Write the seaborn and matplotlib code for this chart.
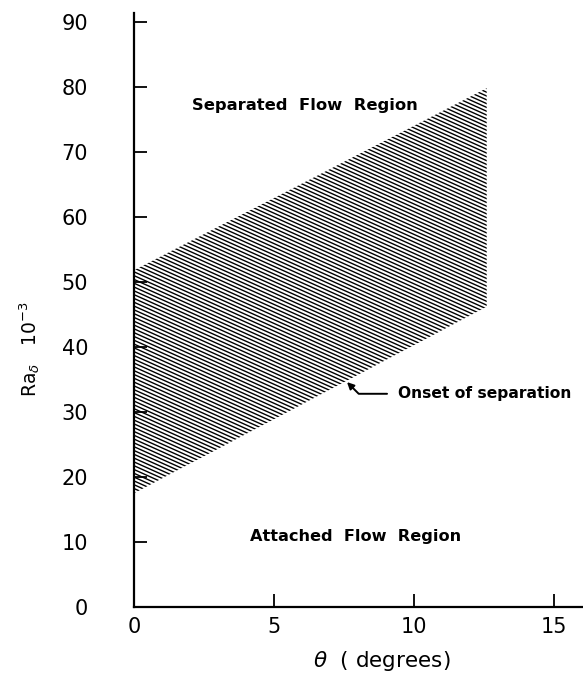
import numpy as np
import matplotlib
matplotlib.use("Agg")
import matplotlib.pyplot as plt
from matplotlib.collections import LineCollection
import seaborn as sns

# Separation band: Ra_delta (x 10^-3) versus inclination angle theta
theta_edge = [0.0, 12.6]
ra_lower = [17.5, 46.2]
ra_upper = [51.8, 79.8]

x_ticks = [0, 5, 10, 15]
y_ticks = [0, 10, 20, 30, 40, 50, 60, 70, 80, 90]

sns.set_theme(style="ticks")
plt.rcParams["font.family"] = ["DejaVu Sans"]

fig = plt.figure(figsize=(5.83, 6.73), dpi=100)
ax = fig.add_axes([0.2298, 0.098, 0.7702, 0.883])

ax.set_xlim(0, 16.04)
ax.set_ylim(0, 91.4)

# band outline (invisible) used as clip region for the hatching
band = ax.fill_between(theta_edge, ra_lower, ra_upper,
                       facecolor="none", edgecolor="none", linewidth=0)
band_path = band.get_paths()[0]

# shallow diagonal hatching drawn in axes fraction
W_px, H_px = 449.0, 594.0
slope = -0.45 * W_px / H_px
step = 3.8 / H_px
offsets = np.arange(-0.05, 1.5, step)
segs = [[(0.0, b), (1.0, b + slope)] for b in offsets]
lc = LineCollection(segs, colors="black", linewidths=1.0,
                    transform=ax.transAxes)
ax.add_collection(lc)
lc.set_clip_path(band_path, ax.transData)

sns.despine(ax=ax)
for side in ("left", "bottom"):
    ax.spines[side].set_linewidth(1.6)
    ax.spines[side].set_color("black")

ax.set_xticks(x_ticks)
ax.set_yticks(y_ticks)
ax.set_xticklabels([str(v) for v in x_ticks])
ax.set_yticklabels([str(v) for v in y_ticks])
ax.tick_params(axis="both", direction="in", length=9.5, width=1.3,
               colors="black", labelsize=15)
ax.tick_params(axis="y", pad=33)
ax.tick_params(axis="x", pad=7)

ax.set_xlabel(r"$\theta$  ( degrees)", fontsize=15.5, color="black")
ax.xaxis.set_label_coords(0.553, -0.070)
ax.set_ylabel(r"Ra$_\delta$   10$^{-3}$", fontsize=13.5, color="black")
ax.yaxis.set_label_coords(-0.205, 0.433)

txt = dict(fontweight="bold", color="black")
ax.text(6.1, 77.2, "Separated  Flow  Region", ha="center", va="center",
        fontsize=11.8, **txt)
ax.text(7.9, 10.8, "Attached  Flow  Region", ha="center", va="center",
        fontsize=11.6, **txt)
ax.text(9.43, 32.9, "Onset of separation", ha="left", va="center",
        fontsize=11.2, **txt)

ax.annotate("", xy=(7.61, 34.6), xytext=(9.04, 32.8),
            arrowprops=dict(arrowstyle="-|>", color="black", lw=1.4,
                            shrinkA=0, shrinkB=0, mutation_scale=10,
                            connectionstyle="angle,angleA=0,angleB=-45,rad=0"))

fig.savefig("out.png", dpi=100)
